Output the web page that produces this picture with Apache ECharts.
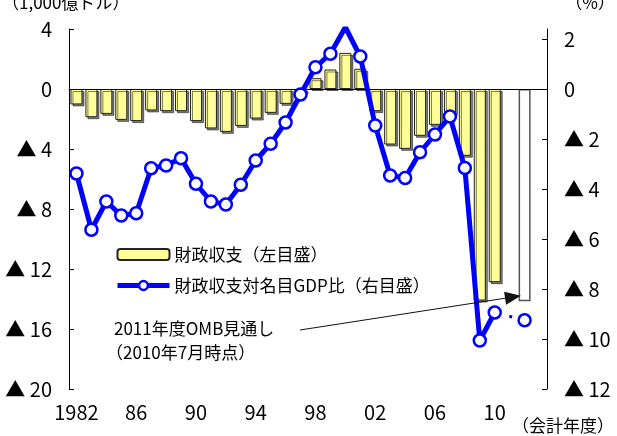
<!DOCTYPE html>
<html>
<head>
<meta charset="utf-8">
<script src="https://cdn.jsdelivr.net/npm/echarts@6/dist/echarts.min.js"></script>
<style>
  html, body { margin: 0; padding: 0; background: #fff; }
  #chart { width: 617px; height: 436px; }
</style>
</head>
<body>
<div id="chart"></div>
<script>
// 会計年度（4年ごとにラベル表示）
const years = ['1982', '83', '84', '85', '86', '87', '88', '89', '90', '91', '92', '93', '94', '95',
  '96', '97', '98', '99', '2000', '01', '02', '03', '04', '05', '06', '07', '08', '09', '10', '', '11', ''];

// 財政収支（1,000億ドル、左目盛）
const balance = [-1.03, -1.88, -1.66, -2.06, -2.14, -1.43, -1.48, -1.48, -2.14, -2.63, -2.86, -2.46, -1.97,
  -1.59, -0.99, -0.22, 0.72, 1.3, 2.41, 1.35, -1.48, -3.7, -3.99, -3.12, -2.39, -1.62, -4.45, -14.1, -12.88];
// 2011年度OMB見通し（2010年7月時点）
const balanceOmb = [null, null, null, null, null, null, null, null, null, null, null, null, null, null, null,
  null, null, null, null, null, null, null, null, null, null, null, null, null, null, null, -14.15];

// 財政収支対名目GDP比（%、右目盛）
const ratio = [-3.38, -5.63, -4.5, -5.06, -4.97, -3.17, -3.06, -2.77, -3.79, -4.5, -4.62, -3.83, -2.86,
  -2.19, -1.34, -0.22, 0.87, 1.41, 2.47, 1.3, -1.46, -3.46, -3.56, -2.53, -1.82, -1.1, -3.16, -10.06, -8.94];
const ratioOmb = [null, null, null, null, null, null, null, null, null, null, null, null, null, null, null,
  null, null, null, null, null, null, null, null, null, null, null, null, null, null, null, -9.25];
// 2010年度→見通しの点線
const ratioLink = ratio.map((v, i) => (i === 28 ? v : null)).concat([null, -9.25]);

const leftTicks = [4, 0, -4, -8, -12, -16, -20];
const rightTicks = [2, 0, -2, -4, -6, -8, -10, -12];

const jp = "'Noto Sans CJK JP', sans-serif";
const fmt = v => (v < 0 ? '▲ ' + (-v) : String(v));

const chart = echarts.init(document.getElementById('chart'));
const option = {
  animation: false,
  backgroundColor: '#fff',
  grid: { left: 69, right: 70, top: 29, bottom: 47 },
  legend: {
    orient: 'vertical',
    left: 110,
    top: 241,
    itemWidth: 52,
    itemHeight: 11,
    itemGap: 14,
    data: [
      { name: '財政収支（左目盛）' },
      { name: '財政収支対名目GDP比（右目盛）', lineStyle: { width: 5 }, itemStyle: { borderWidth: 2.5 } }
    ],
    textStyle: { fontFamily: jp, fontSize: 17, color: '#000' }
  },
  xAxis: {
    type: 'category',
    data: years,
    axisLine: { lineStyle: { color: '#000' } },
    axisTick: { inside: true, interval: 3, length: 5, lineStyle: { color: '#000' } },
    axisLabel: { interval: 3, margin: 13, fontFamily: jp, fontSize: 20, color: '#000' }
  },
  yAxis: [
    {
      type: 'value', min: -20, max: 4, interval: 4,
      splitLine: { show: false },
      axisLine: { show: true, lineStyle: { color: '#000' } },
      axisTick: { show: true, inside: true, length: 5, lineStyle: { color: '#000' } },
      axisLabel: {
        margin: 17, fontFamily: jp, fontSize: 20, color: '#000',
        formatter: v => (leftTicks.includes(v) ? fmt(v) : '')
      }
    },
    {
      type: 'value', min: -12, max: 2.4, interval: 2,
      splitLine: { show: false },
      axisLine: { show: true, lineStyle: { color: '#000' } },
      axisTick: { show: true, inside: true, length: 5, lineStyle: { color: '#000' } },
      axisLabel: {
        margin: 17, fontFamily: jp, fontSize: 20, color: '#000', showMaxLabel: false,
        formatter: v => (rightTicks.includes(v) ? fmt(v) : '')
      }
    }
  ],
  series: [
    {
      name: '財政収支（左目盛）',
      type: 'bar',
      yAxisIndex: 0,
      data: balance,
      barWidth: 12,
      barGap: '-100%',
      itemStyle: {
        color: '#FFFF99', borderColor: '#222', borderWidth: 1,
        shadowColor: 'rgba(0,0,0,0.5)', shadowOffsetX: 2, shadowOffsetY: 2, shadowBlur: 0
      },
      markLine: {
        silent: true,
        symbol: 'none',
        label: { show: false },
        lineStyle: { color: '#000', type: 'solid', width: 1 },
        data: [{ yAxis: 0 }]
      }
    },
    {
      name: 'OMB見通し',
      type: 'bar',
      yAxisIndex: 0,
      data: balanceOmb,
      barWidth: 12,
      barGap: '-100%',
      itemStyle: { color: '#fff', borderColor: '#555', borderWidth: 1.5 }
    },
    {
      name: '点線',
      type: 'line',
      yAxisIndex: 1,
      data: ratioLink,
      connectNulls: true,
      symbol: 'none',
      lineStyle: { color: '#0000FF', width: 3, type: [3, 12] },
      z: 3
    },
    {
      name: '財政収支対名目GDP比（右目盛）',
      type: 'line',
      yAxisIndex: 1,
      data: ratio,
      symbol: 'circle',
      symbolSize: 12,
      showAllSymbol: true,
      lineStyle: { color: '#0000FF', width: 5 },
      itemStyle: { color: '#fff', borderColor: '#0000FF', borderWidth: 2.5 },
      z: 4
    },
    {
      name: 'GDP比見通し',
      type: 'line',
      yAxisIndex: 1,
      data: ratioOmb,
      symbol: 'circle',
      symbolSize: 12,
      showSymbol: true,
      showAllSymbol: true,
      lineStyle: { color: '#0000FF', width: 5 },
      itemStyle: { color: '#fff', borderColor: '#0000FF', borderWidth: 2.5 },
      z: 4,
      // 注記の矢印
      markLine: {
        silent: true,
        symbol: ['none', 'triangle'],
        symbolSize: [13, 16],
        label: { show: false },
        lineStyle: { color: '#111', type: 'solid', width: 1 },
        data: [[{ x: 300, y: 330 }, { x: 513, y: 297 }]]
      }
    }
  ],
  graphic: [
    { type: 'text', left: 2, top: -6, style: { text: '（1,000億ドル）', fontFamily: jp, fontSize: 17, fill: '#000' } },
    { type: 'text', right: 2, top: -6, style: { text: '（%）', fontFamily: jp, fontSize: 17, fill: '#000' } },
    { type: 'text', left: 512, top: 417, style: { text: '（会計年度）', fontFamily: jp, fontSize: 17, fill: '#000' } },
    { type: 'text', left: 114, top: 320, style: { text: '2011年度OMB見通し', fontFamily: jp, fontSize: 17, fill: '#000' } },
    { type: 'text', left: 106, top: 344, style: { text: '（2010年7月時点）', fontFamily: jp, fontSize: 17, fill: '#000' } }
  ]
};
chart.setOption(option);
</script>
</body>
</html>
